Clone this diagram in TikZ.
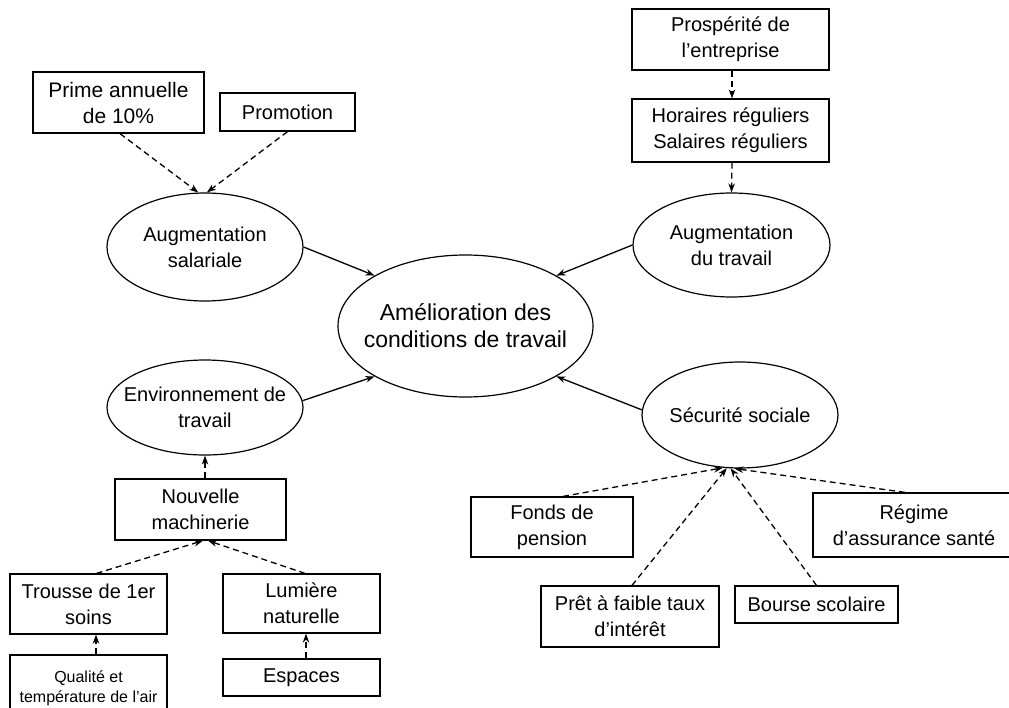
\documentclass[tikz,border=0pt]{standalone}
\usepackage{fontspec}
\setmainfont{Liberation Sans}
\usetikzlibrary{shapes.geometric,arrows.meta,calc}

\begin{document}
\begin{tikzpicture}[x=1pt,y=-1pt,
  box/.style={draw, line width=1.25pt, inner sep=0pt, align=center,
              font=\fontsize{20}{26}\selectfont},
  bubble/.style={ellipse, draw, line width=1.2pt, inner xsep=-30pt,
                 inner ysep=0pt, align=center, font=\fontsize{20}{26}\selectfont},
  link/.style={line width=1.3pt, -{Stealth[length=9pt,width=6.5pt]}},
  dlink/.style={link, dash pattern=on 6pt off 4pt}
]
\useasboundingbox (0,0) rectangle (1009,707);

% central concept and its four drivers
\node[bubble, minimum width=255pt, minimum height=142pt,
      font=\fontsize{23}{27}\selectfont] (c) at (465.5,326)
      {Amélioration des\\conditions de travail};
\node[bubble, minimum width=196pt, minimum height=108pt] (sal) at (205,247)
      {Augmentation\\salariale};
\node[bubble, minimum width=197pt, minimum height=104pt] (tr) at (731.5,245)
      {Augmentation\\du travail};
\node[bubble, minimum width=196pt, minimum height=95pt] (env) at (205,407.5)
      {Environnement de\\travail};
\node[bubble, minimum width=196pt, minimum height=106pt] (secu) at (740,415)
      {Sécurité sociale};

% contributing factors
\node[box, minimum width=171pt, minimum height=61pt,
      font=\fontsize{21}{26}\selectfont] (prime) at (118.5,102.5)
      {Prime annuelle\\de 10\%};
\node[box, minimum width=135pt, minimum height=38pt] (promo) at (287.5,112)
      {Promotion};
\node[box, minimum width=197pt, minimum height=61pt] (prosp) at (730.5,39.5)
      {Prospérité de\\l’entreprise};
\node[box, minimum width=197pt, minimum height=63pt] (hor) at (730.5,130.5)
      {Horaires réguliers\\Salaires réguliers};
\node[box, minimum width=171pt, minimum height=61pt] (nouv) at (200.5,509.5)
      {Nouvelle\\machinerie};
\node[box, minimum width=157pt, minimum height=60pt] (trousse) at (88.5,604)
      {Trousse de 1er\\soins};
\node[box, minimum width=157pt, minimum height=59pt] (lum) at (301.5,603.5)
      {Lumière\\naturelle};
\node[box, minimum width=157pt, minimum height=66pt,
      font=\fontsize{16}{20}\selectfont] (qual) at (88.5,688)
      {Qualité et\\température de l'air};
\node[box, minimum width=157pt, minimum height=37pt] (esp) at (301.5,677.5)
      {Espaces};
\node[box, minimum width=162pt, minimum height=60pt] (fonds) at (552,527)
      {Fonds de\\pension};
\node[box, minimum width=202pt, minimum height=64pt] (regime) at (914,525)
      {Régime\\d’assurance santé};
\node[box, minimum width=178pt, minimum height=61pt] (pret) at (630,616.5)
      {Prêt à faible taux\\d’intérêt};
\node[box, minimum width=163pt, minimum height=37pt] (bourse) at (816.5,604.5)
      {Bourse scolaire};

% solid links into the central concept
\draw[link] (sal.east) -- (c.151);
\draw[link] (tr.west) -- (c.29);
\draw[link] (env.4) -- (c.209);
\draw[link] (secu.177) -- (c.331);

% dashed links from the factors
\draw[dlink] ($(prime.south)+(1.5,0)$) -- (sal.97);
\draw[dlink] (promo.south) -- (sal.88);
\draw[dlink] ($(prosp.south)+(1.5,0)$) -- ($(hor.north)+(1.5,0)$);
\draw[dlink] ($(hor.south)+(1.5,0)$) -- (tr.north);
\draw[dlink] (env.south |- nouv.north) -- (env.south);
\draw[dlink] ($(trousse.north)+(8,0)$) -- ($(nouv.south)+(2.5,0)$);
\draw[dlink] ($(lum.north)+(3.5,0)$) -- ($(nouv.south)+(7.5,0)$);
\draw[dlink] ($(qual.north)+(7.5,0)$) -- ($(trousse.south)+(7.5,0)$);
\draw[dlink] ($(esp.north)+(4.5,0)$) -- ($(lum.south)+(4.5,0)$);
\draw[dlink] ($(fonds.north)+(11,0)$) -- (secu.252);
\draw[dlink] ($(pret.north)+(2,0)$) -- (secu.256);
\draw[dlink] (bourse.north) -- (secu.260);
\draw[dlink] ($(regime.north)+(-9,0)$) -- (secu.264);
\end{tikzpicture}
\end{document}
